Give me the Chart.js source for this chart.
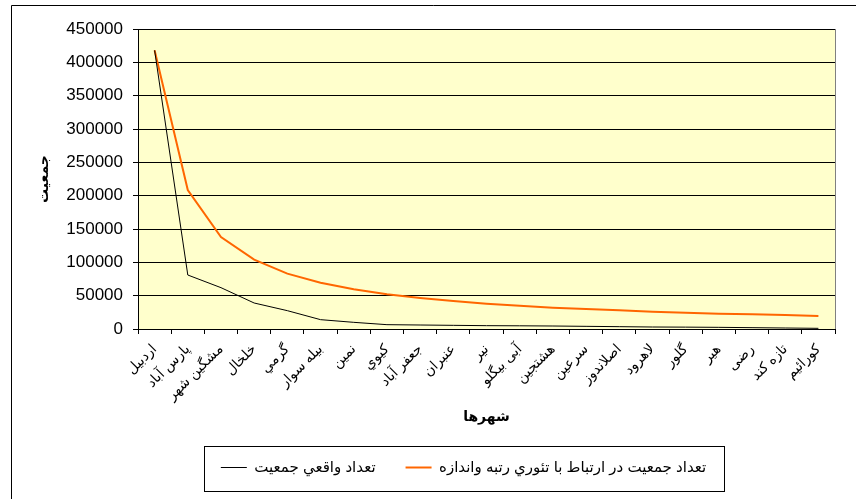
<!DOCTYPE html>
<html lang="fa">
<head>
    <meta charset="UTF-8">
    <title>جمعیت شهرها</title>
    <style>
        html, body { margin: 0; padding: 0; background: #fff; }
        #wrap { width: 856px; height: 499px; position: relative; }
    </style>
</head>
<body>
    <div id="wrap"><canvas id="popChart"></canvas></div>

    <script src="https://cdn.jsdelivr.net/npm/chart.js"></script>
    <script>
        // شهرها
        const cities = ['اردبیل', 'پارس آباد', 'مشگین شهر', 'خلخال', 'گرمي', 'بیله سوار', 'نمین', 'کیوي',
            'جعفر آباد', 'عنبران', 'نیر', 'آبی بیگلو', 'هشتجین', 'سرعین', 'اصلاندوز', 'لاهرود',
            'گلور', 'هیر', 'رضی', 'تازه کند', 'کورائیم'];

        // تعداد واقعي جمعیت
        const actualPop = [418000, 81000, 62000, 39000, 27500, 14000, 10000, 6500, 6000, 5500, 5000,
            4800, 4500, 4000, 3500, 3000, 2800, 2500, 2000, 1500, 1000];

        // رتبه و اندازه
        const rankSizePop = [418000, 208500, 138000, 104000, 83000, 69500, 59500, 52000, 46500, 42000,
            38000, 35000, 32000, 30000, 28000, 26000, 24500, 23000, 22000, 21000, 19500];

        const yTicks = [0, 50000, 100000, 150000, 200000, 250000, 300000, 350000, 400000, 450000];

        const fontFamily = "'Liberation Sans', Arial, 'DejaVu Sans', sans-serif";

        // پس زمینه و قاب
        const framePlugin = {
            id: 'frame',
            beforeDraw(chart) {
                const {ctx, chartArea: a} = chart;
                ctx.save();
                ctx.fillStyle = '#FFFFCC';
                ctx.fillRect(a.left, a.top, a.right - a.left, a.bottom - a.top);
                ctx.restore();
            },
            afterDraw(chart) {
                const {ctx, chartArea: a} = chart;
                ctx.save();
                ctx.strokeStyle = '#808080';
                ctx.lineWidth = 1;
                ctx.beginPath();
                ctx.moveTo(a.right + 0.5, a.top);
                ctx.lineTo(a.right + 0.5, a.bottom);
                ctx.stroke();

                // outer frame
                ctx.strokeStyle = '#000';
                ctx.beginPath();
                ctx.moveTo(11.5, chart.height);
                ctx.lineTo(11.5, 5.5);
                ctx.lineTo(chart.width, 5.5);
                ctx.stroke();

                // legend box
                const boxes = chart.legend.legendHitBoxes;
                if (boxes && boxes.length) {
                    let minX = Infinity, maxX = -Infinity, cy = 0;
                    boxes.forEach(b => {
                        minX = Math.min(minX, b.left);
                        maxX = Math.max(maxX, b.left + b.width);
                        cy = b.top + b.height / 2;
                    });
                    ctx.strokeStyle = '#000';
                    ctx.strokeRect(Math.round(minX - 17) + 0.5, Math.round(cy - 22) + 0.5,
                        Math.round(maxX - minX + 35), 45);
                }
                ctx.restore();
            },
            afterLayout(chart) {
                const lg = chart.legend;
                lg.left += 46;
                lg.right += 46;
            }
        };

        new Chart(document.getElementById('popChart'), {
            type: 'line',
            data: {
                labels: cities,
                datasets: [{
                    label: 'تعداد واقعي جمعیت',
                    data: actualPop,
                    borderColor: '#000000',
                    backgroundColor: '#000000',
                    borderWidth: 1,
                    pointRadius: 0,
                    tension: 0,
                    fill: false
                }, {
                    label: 'تعداد جمعیت در ارتباط با تئوري رتبه واندازه',
                    data: rankSizePop,
                    borderColor: '#FF6600',
                    backgroundColor: '#FF6600',
                    borderWidth: 2,
                    pointRadius: 0,
                    tension: 0,
                    fill: false
                }]
            },
            options: {
                responsive: true,
                maintainAspectRatio: false,
                animation: false,
                layout: {
                    padding: { left: 0, top: 29, right: 21, bottom: 14 }
                },
                scales: {
                    x: {
                        offset: true,
                        grid: {
                            offset: true,
                            drawOnChartArea: false,
                            drawTicks: true,
                            tickLength: 5,
                            color: '#000'
                        },
                        border: { display: true, color: '#000', width: 1 },
                        ticks: {
                            autoSkip: false,
                            maxRotation: 45,
                            minRotation: 45,
                            padding: 7,
                            color: '#000',
                            font: { family: fontFamily, size: 14 }
                        },
                        title: {
                            display: true,
                            text: 'شهرها',
                            color: '#000',
                            font: { family: fontFamily, size: 14, weight: 'bold' },
                            padding: { top: 0, bottom: 4 }
                        },
                        afterFit(scale) { scale.height = 101; }
                    },
                    y: {
                        min: 0,
                        max: 450000,
                        afterBuildTicks(scale) {
                            scale.ticks = yTicks.map(v => ({ value: v }));
                        },
                        grid: {
                            color: '#000',
                            tickLength: 5,
                            drawTicks: true
                        },
                        border: { display: true, color: '#000', width: 1 },
                        ticks: {
                            padding: 10,
                            color: '#000',
                            font: { family: fontFamily, size: 17 },
                            callback: value => String(value)
                        },
                        title: {
                            display: true,
                            text: 'جمعیت',
                            color: '#000',
                            font: { family: fontFamily, size: 14, weight: 'bold' },
                            padding: { top: 36, bottom: 0 }
                        },
                        afterFit(scale) { scale.width = 138; }
                    }
                },
                plugins: {
                    legend: {
                        position: 'bottom',
                        labels: {
                            usePointStyle: true,
                            pointStyle: 'line',
                            pointStyleWidth: 26,
                            padding: 30,
                            color: '#000',
                            font: { family: fontFamily, size: 15 }
                        }
                    },
                    tooltip: { enabled: false }
                }
            },
            plugins: [framePlugin]
        });
    </script>
</body>
</html>
